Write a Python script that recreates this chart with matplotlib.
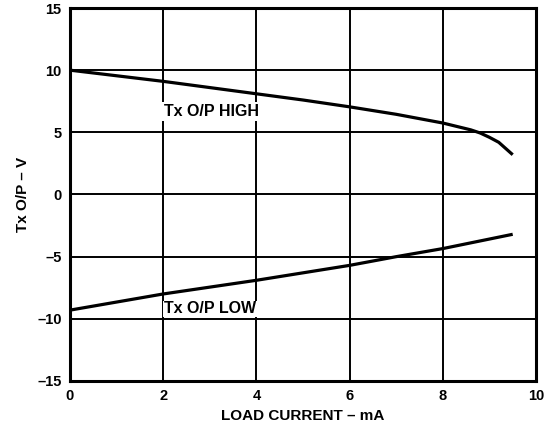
import numpy as np
import matplotlib.pyplot as plt

plt.rcParams['font.family'] = ['Liberation Sans', 'DejaVu Sans']
plt.rcParams['font.weight'] = 'bold'

# Tx O/P HIGH curve
x_high = [0, 1, 2, 3, 4, 5, 6, 7, 8, 8.6, 8.8, 9.0, 9.2, 9.5]
y_high = [10, 9.55, 9.1, 8.6, 8.1, 7.6, 7.05, 6.45, 5.75, 5.2, 4.95, 4.6, 4.2, 3.2]

# Tx O/P LOW curve
x_low = [0, 2, 4, 6, 7, 8, 9.5]
y_low = [-9.3, -8.0, -6.9, -5.7, -5.0, -4.35, -3.2]

xticks = [0, 2, 4, 6, 8, 10]
yticks = [-15, -10, -5, 0, 5, 10, 15]
ytick_labels = ['\u201315', '\u201310', '\u20135', '0', '5', '10', '15']

fig = plt.figure(figsize=(5.49, 4.30), dpi=100)
ax = fig.add_axes([70/549, 1-381/430, 466/549, 373/430])

ax.plot(x_high, y_high, color='black', lw=2.3, solid_capstyle='butt')
ax.plot(x_low, y_low, color='black', lw=2.3, solid_capstyle='butt')

ax.set_xlim(0, 10)
ax.set_ylim(-15, 15)
ax.set_xticks(xticks)
ax.set_yticks(yticks)
ax.set_yticklabels(ytick_labels)
ax.tick_params(length=0, labelsize=10.5, pad=6)
for lbl in ax.get_xticklabels() + ax.get_yticklabels():
    lbl.set_fontweight('bold')
ax.grid(True, color='black', lw=1.4)
ax.set_axisbelow(True)
for s in ax.spines.values():
    s.set_linewidth(2.2)

ax.text(2.02, 6.7, 'Tx O/P HIGH', fontsize=11.5, fontweight='bold', va='center', ha='left',
        bbox=dict(facecolor='white', edgecolor='none', pad=1.5), zorder=3)
ax.text(2.02, -9.2, 'Tx O/P LOW', fontsize=11.5, fontweight='bold', va='center', ha='left',
        bbox=dict(facecolor='white', edgecolor='none', pad=0.5), zorder=1.5)

ax.set_xlabel('LOAD CURRENT \u2013 mA', fontsize=11, fontweight='bold', labelpad=4)
ax.set_ylabel('Tx O/P \u2013 V', fontsize=11, fontweight='bold', labelpad=5)

fig.savefig('out.png', dpi=100)
